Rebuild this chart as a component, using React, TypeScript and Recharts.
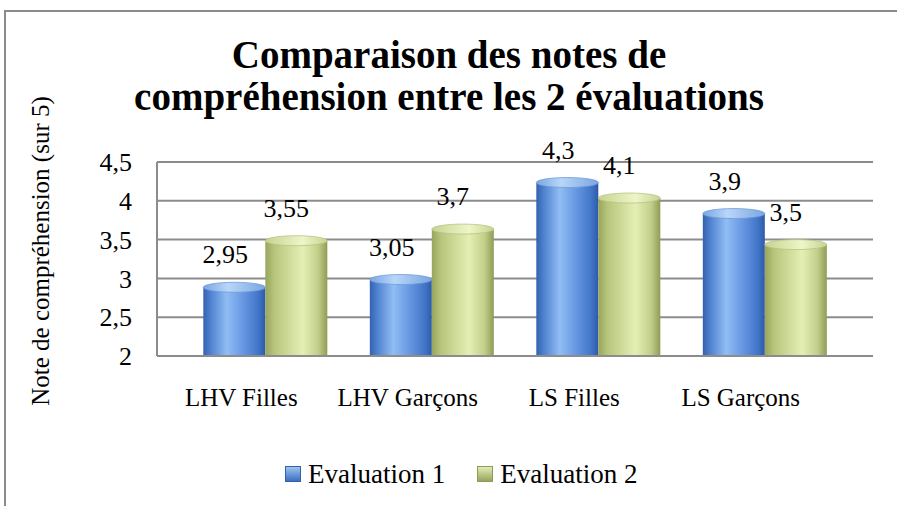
import { Bar, BarChart, CartesianGrid, LabelList, XAxis, YAxis } from 'recharts';

const categories = ['LHV Filles', 'LHV Garçons', 'LS Filles', 'LS Garçons'];
const evaluation1 = [2.95, 3.05, 4.3, 3.9];
const evaluation2 = [3.55, 3.7, 4.1, 3.5];
const yTicks = [2, 2.5, 3, 3.5, 4, 4.5];
const seriesNames = ['Evaluation 1', 'Evaluation 2'];
const titleLines = ['Comparaison des notes de', 'compréhension entre les 2 évaluations'];

const FONT = '"Liberation Serif", "Times New Roman", serif';
const GRID = '#8c8c8c';

const fmt = (v: number) => String(v).replace('.', ',');

const data = categories.map((name, i) => ({
  name,
  e1: evaluation1[i],
  e2: evaluation2[i],
}));

function makeCylinder(body: string, cap: string, edge: string) {
  return (props: any) => {
    const { x, y, width, height } = props;
    if (height <= 0) return null;
    const ry = 5;
    return (
      <g>
        <rect x={x} y={y + ry} width={width} height={height - ry} fill={`url(#${body})`} />
        <ellipse cx={x + width / 2} cy={y + ry} rx={width / 2} ry={ry} fill={`url(#${cap})`} stroke={edge} strokeWidth={0.8} />
      </g>
    );
  };
}

const blueCylinder = makeCylinder('blueBody', 'blueCap', '#6f9ad8');
const greenCylinder = makeCylinder('greenBody', 'greenCap', '#b7c47f');

// labels sit a bit left of the bars, like the 3D chart they come from
const valueLabel = (dx: number) => (props: any) => {
  const { x, y, width, value } = props;
  return (
    <text x={x + width / 2 + dx} y={y - 19} textAnchor="middle" fontSize={26} fontFamily={FONT} fill="#000">
      {fmt(value)}
    </text>
  );
};

const CategoryTick = ({ x, y, payload }: any) => (
  <text x={x - 24} y={y + 50} textAnchor="middle" fontSize={25} fontFamily={FONT} fill="#000">
    {payload.value}
  </text>
);

export default function App() {
  return (
    <div style={{ position: 'absolute', left: 0, top: 0, width: 897, height: 506, overflow: 'hidden', background: '#fff' }}>
      <div
        style={{
          position: 'absolute',
          left: 4,
          top: 10,
          width: 920,
          height: 520,
          border: '2px solid #8a8a8a',
          boxSizing: 'border-box',
        }}
      />
      <BarChart
        width={897}
        height={506}
        data={data}
        margin={{ top: 162, right: 24, bottom: 0, left: 0 }}
        barCategoryGap="12.8%"
        barGap={0}
        style={{ position: 'absolute', left: 0, top: 0 }}
      >
        <defs>
          <linearGradient id="blueBody" x1="0" y1="0" x2="1" y2="0">
            <stop offset="0" stopColor="#3461b0" />
            <stop offset="0.12" stopColor="#4f82d0" />
            <stop offset="0.38" stopColor="#90bdf3" />
            <stop offset="0.6" stopColor="#6d9de6" />
            <stop offset="0.9" stopColor="#3f73c6" />
            <stop offset="1" stopColor="#2e5aa6" />
          </linearGradient>
          <linearGradient id="blueCap" x1="0" y1="0" x2="1" y2="0">
            <stop offset="0" stopColor="#7aa6e3" />
            <stop offset="0.4" stopColor="#b8d6f8" />
            <stop offset="1" stopColor="#7aa6e3" />
          </linearGradient>
          <linearGradient id="greenBody" x1="0" y1="0" x2="1" y2="0">
            <stop offset="0" stopColor="#97a65c" />
            <stop offset="0.15" stopColor="#b7c67c" />
            <stop offset="0.6" stopColor="#e4efb4" />
            <stop offset="0.85" stopColor="#c2cf8a" />
            <stop offset="1" stopColor="#8e9c55" />
          </linearGradient>
          <linearGradient id="greenCap" x1="0" y1="0" x2="1" y2="0">
            <stop offset="0" stopColor="#c6d392" />
            <stop offset="0.6" stopColor="#eef5c8" />
            <stop offset="1" stopColor="#c6d392" />
          </linearGradient>
        </defs>
        <CartesianGrid vertical={false} stroke={GRID} strokeWidth={2} />
        <XAxis
          dataKey="name"
          height={150}
          padding={{ left: 25, right: 25 }}
          tickLine={false}
          tickSize={0}
          tickMargin={0}
          axisLine={{ stroke: GRID, strokeWidth: 2 }}
          tick={<CategoryTick />}
          interval={0}
        />
        <YAxis
          width={157}
          domain={[2, 4.5]}
          ticks={yTicks}
          tickFormatter={fmt}
          tickLine={false}
          tickSize={0}
          tickMargin={25}
          axisLine={{ stroke: GRID, strokeWidth: 2 }}
          tick={{ fontSize: 26, fontFamily: FONT, fill: '#000' }}
          label={{
            content: () => (
              <text
                x={49}
                y={251}
                transform="rotate(-90 49 251)"
                textAnchor="middle"
                fontSize={25}
                fontFamily={FONT}
                fill="#000"
              >
                Note de compréhension (sur 5)
              </text>
            ),
          }}
        />
        <Bar dataKey="e1" name={seriesNames[0]} shape={blueCylinder} isAnimationActive={false}>
          <LabelList dataKey="e1" content={valueLabel(-9)} />
        </Bar>
        <Bar dataKey="e2" name={seriesNames[1]} shape={greenCylinder} isAnimationActive={false}>
          <LabelList dataKey="e2" content={valueLabel(-10)} />
        </Bar>
      </BarChart>
      <svg width={897} height={130} style={{ position: 'absolute', left: 0, top: 0, pointerEvents: 'none' }}>
        {titleLines.map((t, i) => (
          <text
            key={t}
            x={449}
            y={68 + i * 42}
            textAnchor="middle"
            fontSize={39}
            fontWeight="bold"
            fontFamily={FONT}
            fill="#000"
          >
            {t}
          </text>
        ))}
      </svg>
      <div
        style={{
          position: 'absolute',
          left: 285,
          top: 459,
          display: 'flex',
          alignItems: 'center',
          fontFamily: FONT,
          fontSize: 27,
          lineHeight: '30px',
          color: '#000',
        }}
      >
        {seriesNames.map((n, i) => (
          <div key={n} style={{ display: 'flex', alignItems: 'center', marginRight: i === 0 ? 32 : 0 }}>
            <span
              style={{
                display: 'inline-block',
                width: 16,
                height: 16,
                marginRight: 7,
                background:
                  i === 0
                    ? 'linear-gradient(180deg, #9cc3f2, #3d6fc0)'
                    : 'linear-gradient(180deg, #e2ecb6, #95a55e)',
                border: `1px solid ${i === 0 ? '#3461b0' : '#8e9c55'}`,
                boxSizing: 'border-box',
              }}
            />
            <span>{n}</span>
          </div>
        ))}
      </div>
    </div>
  );
}
